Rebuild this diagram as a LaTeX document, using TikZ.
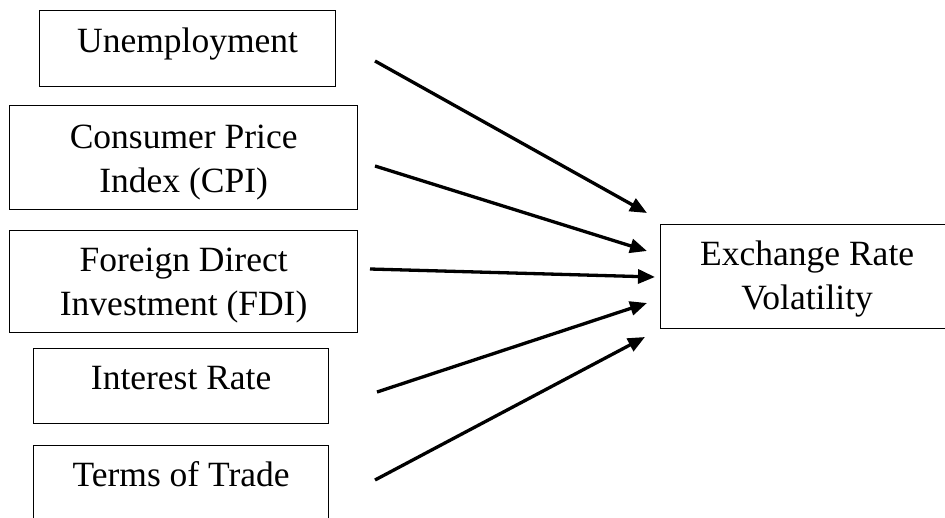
\documentclass[tikz,border=0pt]{standalone}
\usepackage{fontspec}
\setmainfont{Liberation Serif}
\usetikzlibrary{arrows.meta}

\begin{document}
\begin{tikzpicture}[x=1pt,y=-1pt,
  box/.style={draw,line width=1.3pt,anchor=north west,inner sep=0pt,align=center,
    font=\fontsize{35.5}{44}\selectfont},
  link/.style={line width=3.3pt,-{Triangle[length=17pt,width=14pt]}}]
\useasboundingbox (0,0) rectangle (945,517);
\clip (0,0) rectangle (945,517);
\node[box,minimum width=296pt,text height=42pt,text depth=34pt] (unemp) at (39,10) {Unemployment};
\node[box,minimum width=348pt,text height=87pt,text depth=17pt] (cpi) at (9,105) {Consumer Price\\Index (CPI)};
\node[box,minimum width=348pt,text height=85pt,text depth=17pt] (fdi) at (9,230) {Foreign Direct\\Investment (FDI)};
\node[box,minimum width=295pt,text height=41pt,text depth=34pt] (intrate) at (33,348) {Interest Rate};
\node[box,minimum width=295pt,text height=41pt,text depth=36pt] (tot) at (33,445) {Terms of Trade};
\node[box,minimum width=293pt,text height=85pt,text depth=19pt] (erv) at (660,224) {Exchange Rate\\Volatility};
\coordinate (unempout) at (375,61);
\coordinate (unempin) at (647,213);
\coordinate (cpiout) at (375,166);
\coordinate (cpiin) at (647,251);
\coordinate (fdiout) at (370,269);
\coordinate (fdiin) at (655,277);
\coordinate (intout) at (377,392);
\coordinate (intin) at (647,303);
\coordinate (totout) at (375,480);
\coordinate (totin) at (645,337);
\draw[link] (unempout) -- (unempin);
\draw[link] (cpiout) -- (cpiin);
\draw[link] (fdiout) -- (fdiin);
\draw[link] (intout) -- (intin);
\draw[link] (totout) -- (totin);
\end{tikzpicture}
\end{document}
